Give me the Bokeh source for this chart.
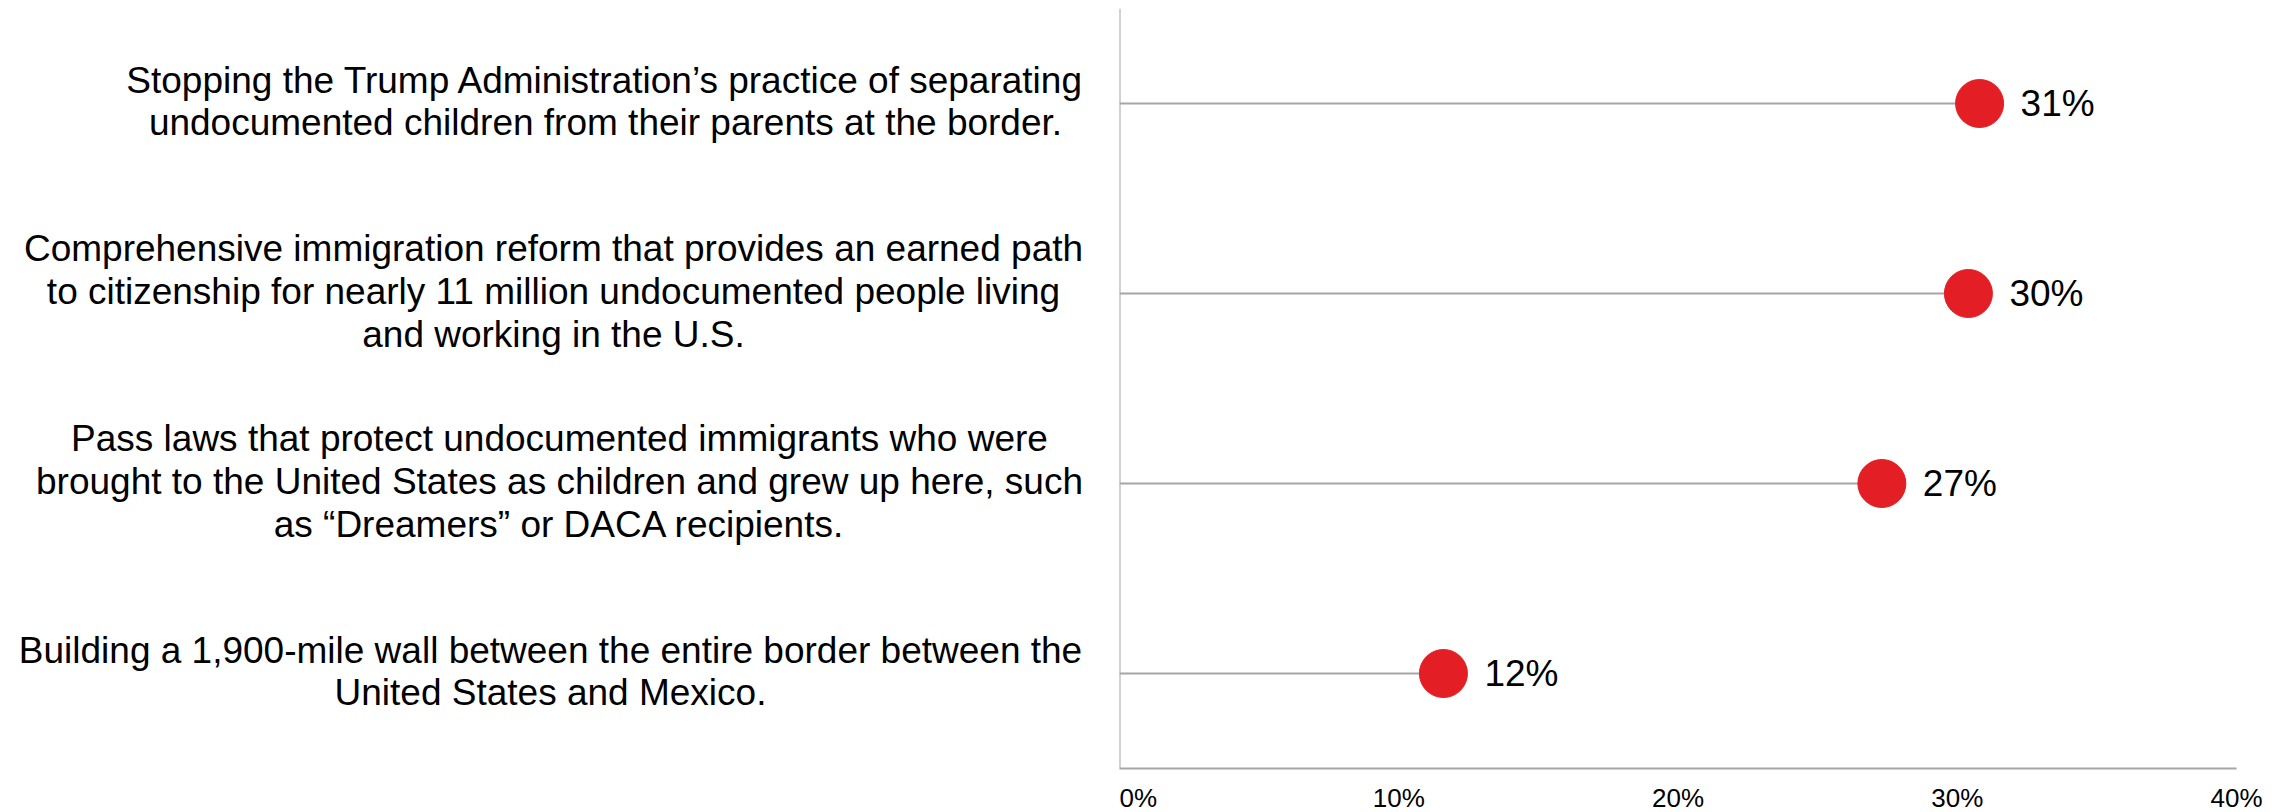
from bokeh.plotting import figure
from bokeh.models import Range1d, FactorRange, FixedTicker, NumeralTickFormatter, ColumnDataSource, Span
from bokeh.layouts import row
from bokeh.embed import file_html
from bokeh.resources import INLINE
from bokeh.core.properties import value

# ---- data ----
categories = [
    "Stopping the Trump Administration\u2019s practice of separating\nundocumented children from their parents at the border.",
    "Comprehensive immigration reform that provides an earned path\nto citizenship for nearly 11 million undocumented people living\nand working in the U.S.",
    "Pass laws that protect undocumented immigrants who were\nbrought to the United States as children and grew up here, such\nas \u201cDreamers\u201d or DACA recipients.",
    "Building a 1,900-mile wall between the entire border between the\nUnited States and Mexico.",
]
keys = ["stop", "reform", "dreamers", "wall"]
values = [0.308, 0.304, 0.273, 0.116]
value_labels = ["31%", "30%", "27%", "12%"]
x_ticks = [0.0, 0.1, 0.2, 0.3, 0.4]

# layout constants (label block centres, px from left of label panel)
label_center_px = [605, 553, 559, 550]

FONT = "Liberation Sans"
GRAY = "#a6a6a6"
RED = "#e31e24"

FRAME_H = 760
TOP = 8
LEFT_W = 1119

y_range = FactorRange(factors=list(reversed(keys)))

# ---- left panel with category labels ----
left = figure(width=LEFT_W, frame_height=FRAME_H, x_range=Range1d(0, LEFT_W), y_range=y_range,
              output_backend="svg", toolbar_location=None,
              x_axis_location=None, y_axis_location=None,
              min_border_left=0, min_border_right=0, min_border_top=TOP, min_border_bottom=0)
left.outline_line_color = None
left.grid.visible = False
lsrc = ColumnDataSource(dict(x=label_center_px, y=keys, t=categories))
left.text(x="x", y="y", text="t", source=lsrc, text_align="center", text_baseline="middle",
          text_font=value(FONT), text_font_size="37px", text_color="black", text_line_height=1.04,
          y_offset=-2)

# ---- right panel with dots ----
p = figure(frame_width=1117, frame_height=FRAME_H, x_range=Range1d(0, 0.4), y_range=y_range,
           output_backend="svg", toolbar_location=None, y_axis_location=None,
           min_border_left=0, min_border_right=50, min_border_top=TOP, min_border_bottom=0)
p.outline_line_color = None
p.grid.visible = False

# vertical axis line at 0%
p.add_layout(Span(location=0, dimension="height", line_color=GRAY, line_width=2))

src = ColumnDataSource(dict(y=keys, v=values, zero=[0] * len(values), lab=value_labels))
p.segment(x0="zero", y0="y", x1="v", y1="y", source=src, line_color=GRAY, line_width=2)
p.scatter(x="v", y="y", source=src, size=48, fill_color=RED, line_color=RED)
p.text(x="v", y="y", text="lab", source=src, x_offset=41, text_align="left", text_baseline="middle",
       text_font=value(FONT), text_font_size="37px", text_color="black")

xa = p.xaxis[0]
xa.ticker = FixedTicker(ticks=x_ticks)
xa.formatter = NumeralTickFormatter(format="0%")
xa.axis_line_color = GRAY
xa.axis_line_width = 2
xa.major_tick_line_color = None
xa.minor_tick_line_color = None
xa.major_tick_out = 0
xa.major_tick_in = 0
xa.major_label_text_font = FONT
xa.major_label_text_font_size = "26px"
xa.major_label_text_color = "black"
xa.major_label_standoff = 14

layout = row(left, p)
open("out.html", "w").write(file_html(layout, INLINE))
